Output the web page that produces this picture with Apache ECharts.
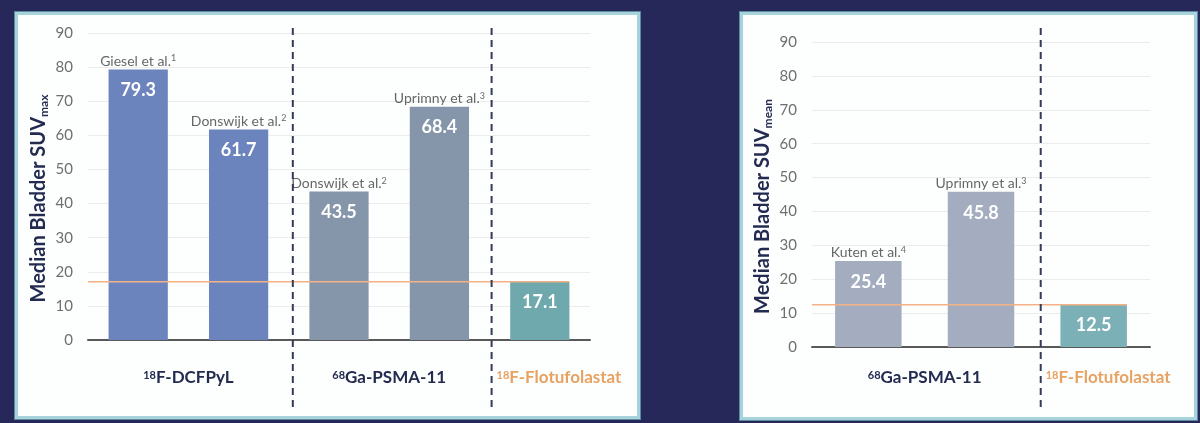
<!DOCTYPE html>
<html>
<head>
<meta charset="utf-8">
<script src="https://cdn.jsdelivr.net/npm/echarts@6/dist/echarts.min.js"></script>
<style>
html, body { margin: 0; padding: 0; width: 1200px; height: 423px; background: #27285a; overflow: hidden; }
.panel { position: absolute; background: #fdfefe; border: 3px solid #a6d3dc; box-sizing: border-box; box-shadow: 0 0 0 1px #5d8b9d; }
#chart { position: absolute; left: 0; top: 0; width: 1200px; height: 423px; }
</style>
</head>
<body>
<div class="panel" style="left:15px;top:12px;width:625px;height:407px"></div>
<div class="panel" style="left:740px;top:12px;width:457px;height:408px"></div>
<div id="chart"></div>
<script>
// SUVmax panel data
var maxCats = ['giesel', 'donswijkDcf', 'donswijkGa', 'uprimny', 'flotufolastat'];
var maxValues = [79.3, 61.7, 43.5, 68.4, 17.1];
var maxStudies = ['Giesel et al.', 'Donswijk et al.', 'Donswijk et al.', 'Uprimny et al.', ''];
var maxRefs = ['1', '2', '2', '3', ''];
var maxGroupIso = ['18', '68', '18'];
var maxGroupName = ['F-DCFPyL', 'Ga-PSMA-11', 'F-Flotufolastat'];
var maxGroupFrom = [0, 2, 4];
var maxGroupTo = [1, 3, 4];

// SUVmean panel data
var meanCats = ['kuten', 'uprimny', 'flotufolastat'];
var meanValues = [25.4, 45.8, 12.5];
var meanStudies = ['Kuten et al.', 'Uprimny et al.', ''];
var meanRefs = ['4', '3', ''];
var meanGroupIso = ['68', '18'];
var meanGroupName = ['Ga-PSMA-11', 'F-Flotufolastat'];
var meanGroupFrom = [0, 2];
var meanGroupTo = [1, 2];

// y ticks
var yMin = 0, yMax = 90, yStep = 10;

// styles
var FONT = 'Lato, "Open Sans", sans-serif';
var NAVY = '#232b50';
var ORANGE_TXT = '#e8a262';
var ORANGE_LINE = '#f4b183';
var maxColors = ['#6b84be', '#6b84be', '#8696aa', '#8696aa', '#6fa9ae'];
var meanColors = ['#a3adbf', '#a3adbf', '#7ab0b6'];
var BAR_RATIO = 0.59;
var maxDividers = [2.04, 4.02];
var meanDividers = [2.03];

var chart = echarts.init(document.getElementById('chart'));

function yAxisFor(gridIndex, title, sub, shift) {
    return {
        gridIndex: gridIndex, type: 'value', min: yMin, max: yMax, interval: yStep,
        axisLine: { show: false }, axisTick: { show: false },
        axisLabel: { color: '#6f6f6f', fontSize: 15, fontFamily: FONT, margin: 15 },
        splitLine: { lineStyle: { color: '#ececec', width: 1 } },
        name: '{t|' + title + '}{s|' + sub + '}',
        nameLocation: 'middle', nameRotate: 90, nameGap: 38,
        nameTextStyle: {
            padding: [0, shift, 0, 0],
            rich: {
                t: { fontSize: 20, fontWeight: 'bold', color: NAVY, fontFamily: FONT, lineHeight: 23 },
                s: { fontSize: 12, fontWeight: 'bold', color: NAVY, fontFamily: FONT, verticalAlign: 'bottom', lineHeight: 14 }
            }
        }
    };
}

function catAxis(gridIndex, cats) {
    return {
        gridIndex: gridIndex, type: 'category', data: cats,
        axisLine: { lineStyle: { color: '#595959', width: 2 } },
        axisTick: { show: false }, axisLabel: { show: false }
    };
}

function hiddenAxis(gridIndex, n) {
    return { gridIndex: gridIndex, type: 'value', min: 0, max: n, show: false, splitLine: { show: false } };
}

var richLabel = {
    t: { fontSize: 14, color: '#3f3f3f', fontFamily: FONT },
    p: { fontSize: 9, color: '#3f3f3f', fontFamily: FONT, verticalAlign: 'top' }
};

function panelSeries(xCat, xVal, yIdx, values, colors, studies, refs) {
    var n = values.length;
    return [
        {
            type: 'bar', xAxisIndex: xCat, yAxisIndex: yIdx, barWidth: (BAR_RATIO * 100) + '%',
            data: values.map(function (v, i) { return { value: v, itemStyle: { color: colors[i] } }; }),
            label: {
                show: true, position: 'insideTop', distance: 12, color: '#ffffff',
                fontSize: 18, fontWeight: 'bold', fontFamily: FONT,
                formatter: function (p) { return p.value.toFixed(1); }
            }
        },
        {
            type: 'scatter', xAxisIndex: xCat, yAxisIndex: yIdx, symbolSize: 1,
            itemStyle: { color: 'transparent' },
            data: values.map(function (v, i) { return studies[i] ? v : '-'; }),
            label: {
                show: true, position: 'top', distance: 1,
                formatter: function (p) {
                    return '{t|' + studies[p.dataIndex] + '}{p|' + refs[p.dataIndex] + '}';
                },
                rich: richLabel
            }
        },
        {
            type: 'line', xAxisIndex: xVal, yAxisIndex: yIdx, symbol: 'none', z: 3,
            lineStyle: { color: ORANGE_LINE, width: 1.5 },
            data: [[0, values[n - 1]], [n - 0.5 + BAR_RATIO / 2, values[n - 1]]]
        }
    ];
}

var option = {
    animation: false,
    grid: [
        { left: 88, right: 610, top: 33, bottom: 83 },
        { left: 812, right: 50, top: 42, bottom: 76 }
    ],
    xAxis: [
        catAxis(0, maxCats), hiddenAxis(0, maxCats.length),
        catAxis(1, meanCats), hiddenAxis(1, meanCats.length)
    ],
    yAxis: [
        yAxisFor(0, 'Median Bladder SUV', 'max', 24),
        yAxisFor(1, 'Median Bladder SUV', 'mean', 24)
    ],
    series: [].concat(
        panelSeries(0, 1, 0, maxValues, maxColors, maxStudies, maxRefs),
        panelSeries(2, 3, 1, meanValues, meanColors, meanStudies, meanRefs)
    )
};
chart.setOption(option);

// tracer group labels and dashed dividers
var graphics = [];
function addGroups(xVal, iso, names, from, to, dividers) {
    dividers.forEach(function (d) {
        var x = chart.convertToPixel({ xAxisIndex: xVal }, d);
        graphics.push({
            type: 'line', z: 10,
            shape: { x1: x, y1: 28, x2: x, y2: 410 },
            style: { stroke: '#343b5a', lineWidth: 2, lineDash: [7, 5] }
        });
    });
    names.forEach(function (name, i) {
        var last = i === names.length - 1;
        var x = last
            ? chart.convertToPixel({ xAxisIndex: xVal }, dividers[dividers.length - 1]) + 5
            : chart.convertToPixel({ xAxisIndex: xVal }, (from[i] + to[i] + 1) / 2);
        var color = last ? ORANGE_TXT : NAVY;
        graphics.push({
            type: 'text', z: 10, x: x, y: 378,
            style: {
                text: '{i|' + iso[i] + '}{n|' + name + '}',
                align: last ? 'left' : 'center', verticalAlign: 'middle',
                rich: {
                    i: { fontSize: 11, fontWeight: 'bold', fill: color, fontFamily: FONT, verticalAlign: 'top' },
                    n: { fontSize: 17, fontWeight: 'bold', fill: color, fontFamily: FONT }
                }
            }
        });
    });
}
addGroups(1, maxGroupIso, maxGroupName, maxGroupFrom, maxGroupTo, maxDividers);
addGroups(3, meanGroupIso, meanGroupName, meanGroupFrom, meanGroupTo, meanDividers);
chart.setOption({ graphic: graphics });
</script>
</body>
</html>
